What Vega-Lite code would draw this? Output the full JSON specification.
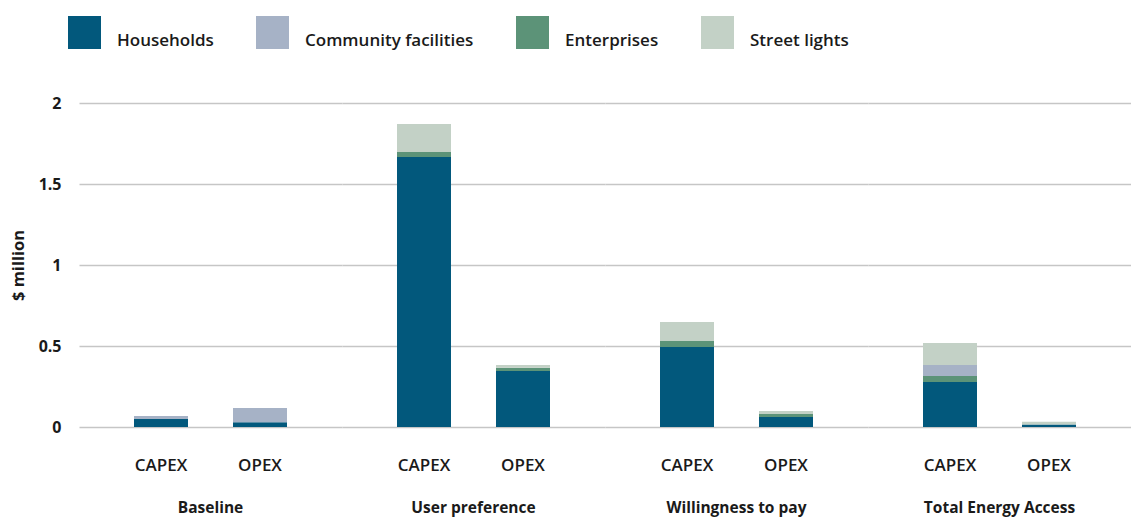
{
  "$schema": "https://vega.github.io/schema/vega-lite/v6.json",
  "padding": {"left": 10, "top": 16, "right": 0, "bottom": 0},
  "data": {
    "values": [
      {"scenario": "Baseline", "type": "CAPEX", "category": "Households", "value": 0.05},
      {"scenario": "Baseline", "type": "CAPEX", "category": "Community facilities", "value": 0.018},
      {"scenario": "Baseline", "type": "OPEX", "category": "Households", "value": 0.03},
      {"scenario": "Baseline", "type": "OPEX", "category": "Community facilities", "value": 0.087},
      {"scenario": "User preference", "type": "CAPEX", "category": "Households", "value": 1.667},
      {"scenario": "User preference", "type": "CAPEX", "category": "Enterprises", "value": 0.031},
      {"scenario": "User preference", "type": "CAPEX", "category": "Street lights", "value": 0.172},
      {"scenario": "User preference", "type": "OPEX", "category": "Households", "value": 0.346},
      {"scenario": "User preference", "type": "OPEX", "category": "Enterprises", "value": 0.02},
      {"scenario": "User preference", "type": "OPEX", "category": "Street lights", "value": 0.017},
      {"scenario": "Willingness to pay", "type": "CAPEX", "category": "Households", "value": 0.494},
      {"scenario": "Willingness to pay", "type": "CAPEX", "category": "Enterprises", "value": 0.037},
      {"scenario": "Willingness to pay", "type": "CAPEX", "category": "Street lights", "value": 0.117},
      {"scenario": "Willingness to pay", "type": "OPEX", "category": "Households", "value": 0.062},
      {"scenario": "Willingness to pay", "type": "OPEX", "category": "Enterprises", "value": 0.018},
      {"scenario": "Willingness to pay", "type": "OPEX", "category": "Street lights", "value": 0.019},
      {"scenario": "Total Energy Access", "type": "CAPEX", "category": "Households", "value": 0.278},
      {"scenario": "Total Energy Access", "type": "CAPEX", "category": "Enterprises", "value": 0.037},
      {"scenario": "Total Energy Access", "type": "CAPEX", "category": "Community facilities", "value": 0.068},
      {"scenario": "Total Energy Access", "type": "CAPEX", "category": "Street lights", "value": 0.136},
      {"scenario": "Total Energy Access", "type": "OPEX", "category": "Households", "value": 0.015},
      {"scenario": "Total Energy Access", "type": "OPEX", "category": "Street lights", "value": 0.017}
    ]
  },
  "transform": [
    {"calculate": "indexof(['Households','Enterprises','Community facilities','Street lights'], datum.category)", "as": "stackOrder"}
  ],
  "facet": {
    "column": {
      "field": "scenario",
      "type": "nominal",
      "sort": ["Baseline", "User preference", "Willingness to pay", "Total Energy Access"],
      "title": null,
      "header": {
        "labelOrient": "bottom",
        "labelFont": "Open Sans",
        "labelFontSize": 15.5,
        "labelFontWeight": 700,
        "labelColor": "#1a1a1a",
        "labelPadding": 28
      }
    }
  },
  "spacing": 0,
  "spec": {
    "width": 263,
    "height": 324,
    "mark": {"type": "bar", "width": 54},
    "encoding": {
      "x": {
        "field": "type",
        "type": "nominal",
        "sort": ["CAPEX", "OPEX"],
        "scale": {"paddingInner": 0.4545, "paddingOuter": 0.5556},
        "axis": {
          "title": null,
          "labelAngle": 0,
          "domain": false,
          "ticks": false,
          "labelPadding": 30,
          "labelFont": "Open Sans",
          "labelFontSize": 17,
          "labelFontWeight": 600,
          "labelColor": "#1a1a1a"
        }
      },
      "y": {
        "field": "value",
        "type": "quantitative",
        "aggregate": "sum",
        "scale": {"domain": [0, 2]},
        "axis": {
          "values": [0, 0.5, 1, 1.5, 2],
          "format": "~g",
          "title": "$ million",
          "titleFont": "Open Sans",
          "titleFontSize": 16.5,
          "titleFontWeight": 700,
          "titleColor": "#1a1a1a",
          "titlePadding": 12,
          "domain": false,
          "ticks": false,
          "labelPadding": 18,
          "labelFont": "Open Sans",
          "labelFontSize": 16,
          "labelFontWeight": 700,
          "labelColor": "#1a1a1a",
          "gridColor": "#c6c6c6",
          "gridWidth": 1.5
        }
      },
      "color": {
        "field": "category",
        "type": "nominal",
        "scale": {
          "domain": ["Households", "Community facilities", "Enterprises", "Street lights"],
          "range": ["#02587c", "#a6b2c6", "#5c9378", "#c3d1c6"]
        },
        "legend": {
          "orient": "none",
          "legendX": -11,
          "legendY": -87,
          "direction": "horizontal",
          "title": null,
          "symbolType": "square",
          "symbolSize": 1089,
          "symbolStrokeWidth": 0,
          "labelFont": "Open Sans",
          "labelFontSize": 17,
          "labelFontWeight": 600,
          "labelColor": "#1a1a1a",
          "labelBaseline": "top",
          "labelOffset": 16,
          "labelLimit": 400,
          "columnPadding": 42
        }
      },
      "order": {"field": "stackOrder", "type": "quantitative"}
    }
  },
  "config": {"view": {"stroke": null}}
}
